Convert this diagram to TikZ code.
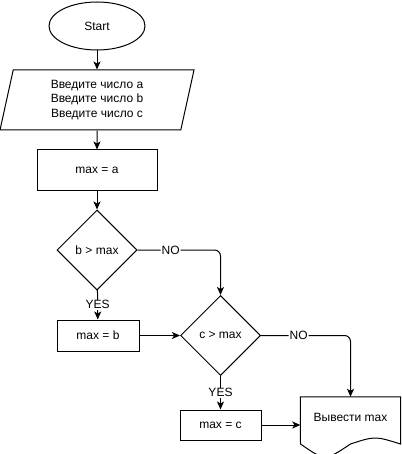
\documentclass[tikz,border=0pt]{standalone}
\usepackage{fontspec}
\setmainfont{Liberation Sans}
\usetikzlibrary{shapes.geometric,arrows.meta}

\begin{document}
\begin{tikzpicture}[x=1pt, y=-1pt]
  \tikzset{
    every node/.style={font={\fontsize{12pt}{14.5pt}\selectfont}},
    box/.style={draw, line width=1pt, rectangle, inner sep=0pt},
    terminal/.style={draw, line width=1pt, ellipse, minimum width=96pt, minimum height=48pt, inner sep=0pt},
    inputbox/.style={draw, line width=1pt, trapezium, trapezium left angle=71.57, trapezium right angle=108.43,
      trapezium stretches body, minimum width=194pt, minimum height=60pt, inner sep=0pt, align=center},
    decision/.style={draw, line width=1pt, diamond, minimum width=80pt, minimum height=80pt, inner sep=0pt},
    flow/.style={line width=1pt, -{Stealth[length=8pt, width=7pt, inset=2pt]}},
    branch/.style={fill=white, inner sep=1pt},
  }
  \useasboundingbox (0,0) rectangle (401,454);

  % blocks
  \node (start) [terminal] at (97,26) {Start};
  \node (input) [inputbox] at (97,100) {Введите число a\\Введите число b\\Введите число c};
  \node (max_a) [box, minimum width=120pt, minimum height=40pt] at (97,170) {max = a};
  \node (cond_b) [decision] at (97,250) {b > max};
  \node (max_b) [box, minimum width=82pt, minimum height=31pt] at (98,335.5) {max = b};
  \node (cond_c) [decision] at (220.5,335.5) {c > max};
  \node (max_c) [box, minimum width=81pt, minimum height=30pt] at (220.5,425) {max = c};

  % output document
  \node (output) [minimum width=100pt, minimum height=40pt, inner sep=0pt] at (350.5,417) {Вывести max};
  \draw[line width=1pt] (output.north west) -- (output.north east) -- (400.5,444)
    .. controls (375,436) .. (350.5,444) .. controls (325,461) .. (300.5,444) -- cycle;

  % connectors
  \draw [flow] (start) -- (input);
  \draw [flow] (input) -- (max_a);
  \draw [flow] (max_a) -- (cond_b);
  \draw [flow] (cond_b) -- (max_b) node [midway, branch] {YES};
  \draw [flow] (max_b) -- (cond_c);
  \draw [flow, rounded corners=6pt] (cond_b.east) -| (cond_c.north) node [pos=0.2, branch] {NO};
  \draw [flow, rounded corners=6pt] (cond_c.east) -| (output.north) node [pos=0.21, branch] {NO};
  \draw [flow] (cond_c) -- (max_c) node [midway, branch] {YES};
  \draw [flow] (max_c.east) -- (max_c.east -| output.west);
\end{tikzpicture}
\end{document}
